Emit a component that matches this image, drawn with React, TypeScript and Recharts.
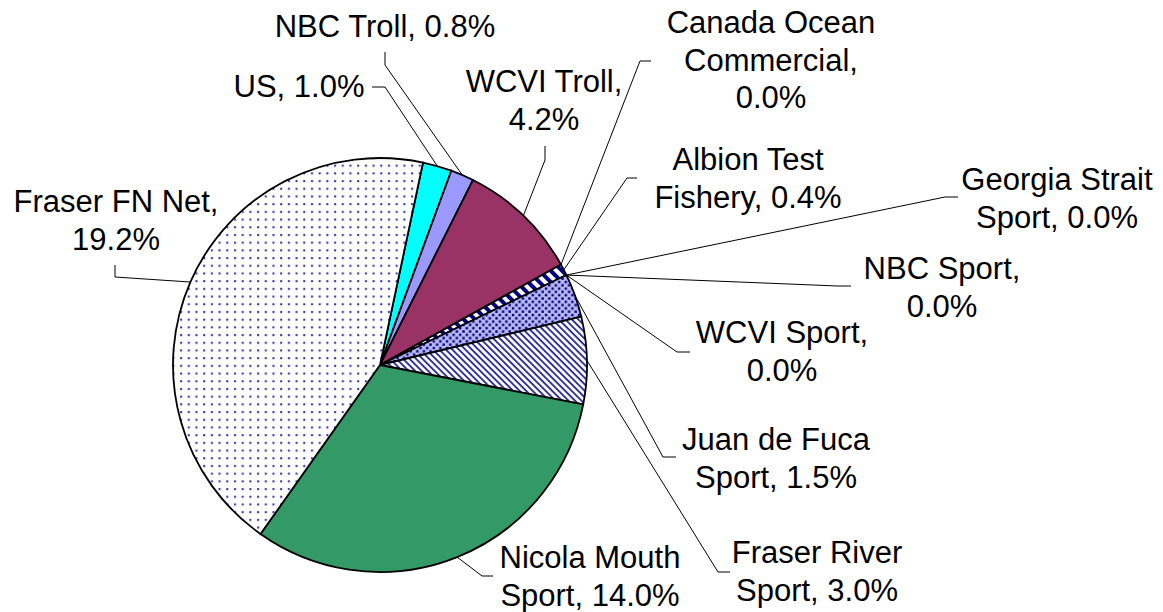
import React from 'react';
import { PieChart, Pie, Cell } from 'recharts';

const categories = [
  'US',
  'NBC Troll',
  'WCVI Troll',
  'Canada Ocean Commercial',
  'Albion Test Fishery',
  'Georgia Strait Sport',
  'NBC Sport',
  'WCVI Sport',
  'Juan de Fuca Sport',
  'Fraser River Sport',
  'Nicola Mouth Sport',
  'Fraser FN Net',
];
const values = [1.0, 0.8, 4.2, 0.0, 0.4, 0.0, 0.0, 0.0, 1.5, 3.0, 14.0, 19.2];

// words per label line
const wraps = [[2], [3], [2, 1], [2, 1, 1], [2, 2], [2, 2], [2, 1], [2, 1], [3, 2], [2, 2], [2, 2], [3, 1]];

const fills = [
  '#00FFFF',
  '#9999FF',
  '#993366',
  '#FFFFFF',
  'url(#pAlb)',
  '#FFFFFF',
  '#FFFFFF',
  '#FFFFFF',
  'url(#pJdf)',
  'url(#pFrs)',
  '#339966',
  'url(#pFfn)',
];

// label layout: text centre x, first baseline y, leader polyline points (from elbow to label end)
const labelLayout = [
  { x: 299, y: 97, pts: [[385, 87], [372, 87]] },
  { x: 385, y: 37, pts: [[385, 65], [385, 52]] },
  { x: 544, y: 92, pts: [[545, 160], [545, 146]] },
  { x: 771, y: 33, pts: [[640, 61], [651, 61]] },
  { x: 748, y: 170, pts: [[627, 178], [637, 178]] },
  { x: 1057, y: 190, pts: [[945, 197], [958, 197]] },
  { x: 942, y: 279, pts: [[838, 286], [851, 286]] },
  { x: 782, y: 343, pts: [[677, 352], [690, 352]] },
  { x: 776, y: 450, pts: [[663, 457], [676, 457]] },
  { x: 817, y: 563, pts: [[718, 572], [730, 572]] },
  { x: 590, y: 568, pts: [[482, 576], [493, 576]] },
  { x: 116, y: 212, pts: [[115, 277], [115, 265]] },
];

const data = categories.map((name, i) => ({ name, value: values[i] }));

const RAD = Math.PI / 180;
const FONT = 31;
const LH = 37.5;

const renderLabel = (props: any) => {
  const { cx, cy, midAngle, outerRadius, index } = props;
  const lay = labelLayout[index];
  if (!lay) return null;
  const ax = cx + outerRadius * Math.cos(-midAngle * RAD);
  const ay = cy + outerRadius * Math.sin(-midAngle * RAD);
  const text = `${categories[index]}, ${values[index].toFixed(1)}%`;
  const words = text.split(' ');
  const lines: string[] = [];
  let k = 0;
  for (const n of wraps[index]) {
    lines.push(words.slice(k, k + n).join(' '));
    k += n;
  }
  const pts = [[ax, ay], ...lay.pts].map((p) => p.join(',')).join(' ');
  return (
    <g key={`lab-${index}`}>
      <polyline points={pts} fill="none" stroke="#000" strokeWidth={1} />
      <text
        x={lay.x}
        y={lay.y}
        textAnchor="middle"
        fontFamily="'Liberation Sans', Arial, sans-serif"
        fontSize={FONT}
        fill="#000"
      >
        {lines.map((l, j) => (
          <tspan key={j} x={lay.x} y={lay.y + j * LH}>
            {l}
          </tspan>
        ))}
      </text>
    </g>
  );
};

export default function App() {
  return (
    <div style={{ position: 'absolute', left: 0, top: 0, width: 1163, height: 612, background: '#fff' }}>
      <PieChart width={1163} height={612} margin={{ top: 0, right: 0, bottom: 0, left: 0 }}>
        <defs>
          <pattern id="pFfn" width="7.7" height="7.7" patternUnits="userSpaceOnUse">
            <rect width="7.7" height="7.7" fill="#ffffff" />
            <rect x="3" y="3" width="2" height="2" fill="#2a2aa8" />
          </pattern>
          <pattern id="pJdf" width="6.6" height="6.6" patternUnits="userSpaceOnUse">
            <rect width="6.6" height="6.6" fill="#b8b8f4" />
            <rect x="0.3" y="0.3" width="2.4" height="2.4" fill="#000080" />
            <rect x="3.6" y="3.6" width="2.4" height="2.4" fill="#000080" />
          </pattern>
          <pattern id="pFrs" width="4.6" height="4.6" patternUnits="userSpaceOnUse" patternTransform="rotate(45)">
            <rect width="4.6" height="4.6" fill="#ffffff" />
            <rect x="0" y="0" width="4.6" height="1.9" fill="#30309a" />
          </pattern>
          <pattern id="pAlb" width="8" height="8" patternUnits="userSpaceOnUse" patternTransform="rotate(45)">
            <rect width="8" height="8" fill="#ffffff" />
            <rect x="0" y="0" width="8" height="4" fill="#000080" />
          </pattern>
        </defs>
        <Pie
          data={data}
          dataKey="value"
          nameKey="name"
          cx={380}
          cy={365}
          outerRadius={207}
          startAngle={78}
          endAngle={-282}
          stroke="#000"
          strokeWidth={1.8}
          isAnimationActive={false}
          label={renderLabel}
          labelLine={false}
        >
          {data.map((d, i) => (
            <Cell key={d.name} fill={fills[i]} />
          ))}
        </Pie>
      </PieChart>
    </div>
  );
}
